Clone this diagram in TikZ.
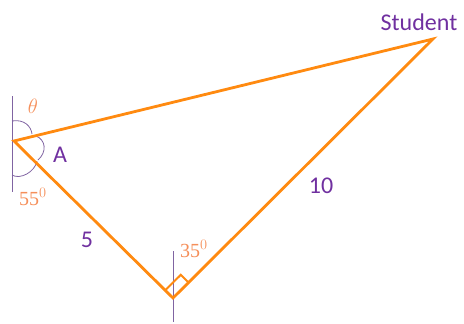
\documentclass[tikz,border=0pt]{standalone}
\usepackage{fontspec}
\setmainfont{Liberation Serif}
\newfontfamily\calib{Carlito}
\usetikzlibrary{calc}
\definecolor{lineor}{HTML}{FF8A10}
\definecolor{txtor}{HTML}{F58F5A}
\definecolor{purp}{HTML}{7030A0}
\definecolor{vline}{HTML}{8064A2}
\begin{document}
\begin{tikzpicture}[x=1pt,y=-1pt,
  side/.style={draw=lineor,line width=2.8pt,line join=miter},
  vert/.style={draw=vline,line width=0.9pt},
  arcl/.style={draw=vline,line width=0.8pt},
  plab/.style={text=purp,font=\calib\fontsize{24}{26}\selectfont,inner sep=0pt},
  olab/.style={text=txtor,font=\fontsize{20}{22}\selectfont,inner sep=0pt}]
\useasboundingbox (0,0) rectangle (464,324);
\coordinate (A) at (14,141);
\coordinate (B) at (173,298);
\coordinate (S) at (433,39);
\coordinate (vt) at (12,96);
\coordinate (vb) at (12,192);
\coordinate (bt) at (173,251);
\coordinate (bb) at (173,322);
% vertical reference lines
\draw[vert] (vt) -- (vb);
\draw[vert] (bt) -- (bb);
% angle arcs at A
\draw[arcl] (12,121) .. controls (24,119) and (31,126) .. (32,134);
\draw[arcl] (36,136) .. controls (46,140) and (47,152) .. (38,160);
\draw[arcl] (37,161) .. controls (35,172) and (20,180) .. (12,175);
% triangle
\draw[side] (A) -- (S) -- (B) -- cycle;
% right angle mark
\draw[draw=lineor,line width=2pt] ($(B)+(-7.8,-7.7)$) -- ($(B)+(7.8,-23.2)$) -- ($(B)+(15.6,-15.5)$);
% labels
\node[plab] (stud) at (419,22) {Student};
\node[plab] (lA) at (60,155) {A};
\node[plab] (l5) at (87,240) {5};
\node[plab] (l10) at (321,186) {10};
\node[olab] (th) at (33,106) {$\theta$};
\node[olab] (a55) at (33,197) {55$^0$};
\node[olab] (a35) at (194,249) {35$^0$};
\end{tikzpicture}
\end{document}
